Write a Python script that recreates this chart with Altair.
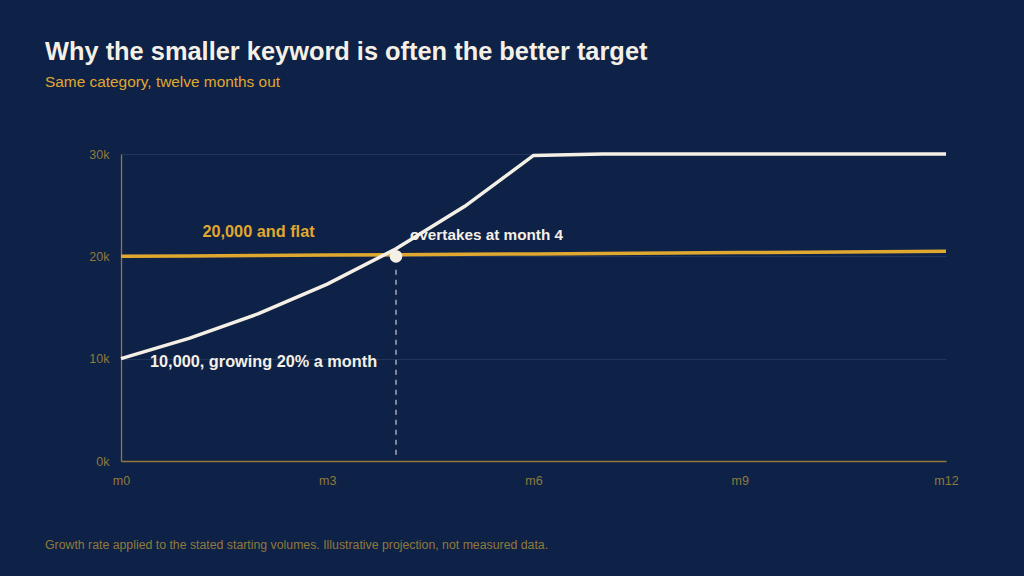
import altair as alt
import pandas as pd

months = list(range(13))
small_kw = [10000, 12000, 14400, 17280, 20736, 24883, 29860, 30000, 30000, 30000, 30000, 30000, 30000]
big_kw = [20000, 20040, 20080, 20120, 20160, 20200, 20240, 20280, 20320, 20370, 20410, 20450, 20490]
x_ticks = [0, 3, 6, 9, 12]
y_ticks = [0, 10000, 20000, 30000]
cross_month = 4
cross_value = 20000

BG = "#0e2146"
GOLD = "#e0a82e"
CREAM = "#f5f0e6"
MUTED = "#8f7a3c"
DOMAIN = "#94793a"
FONT = "Liberation Sans"

df = pd.DataFrame({"month": months, "small": small_kw, "big": big_kw})
cross = pd.DataFrame({"month": [cross_month], "value": [cross_value], "top": [18700], "zero": [150]})

x_enc = alt.X("month:Q", scale=alt.Scale(domain=[0, 12], nice=False),
              axis=alt.Axis(values=x_ticks, labelExpr="'m' + datum.value", title=None,
                            grid=False, ticks=False, domain=True, domainColor=DOMAIN, labelColor=MUTED,
                            labelFlush=False, labelFont=FONT, labelFontSize=12.5, labelPadding=13))
y_scale = alt.Scale(domain=[0, 30000], nice=False)
y_axis = alt.Axis(values=y_ticks, labelExpr="(datum.value/1000) + 'k'", title=None,
                  grid=True, gridColor="#22355c", gridWidth=1, ticks=False, domain=True,
                  domainColor=DOMAIN, labelColor=MUTED, labelFont=FONT, labelFontSize=12.5,
                  labelFlush=False, labelPadding=12)

base = alt.Chart(df)

grid = base.mark_line(opacity=0).encode(x=x_enc, y=alt.Y("small:Q", scale=y_scale, axis=y_axis))

gold_line = base.mark_line(color=GOLD, strokeWidth=3.5).encode(
    x="month:Q", y=alt.Y("big:Q", scale=y_scale))
white_line = base.mark_line(color=CREAM, strokeWidth=3.5).encode(
    x="month:Q", y=alt.Y("small:Q", scale=y_scale))

rule = alt.Chart(cross).mark_rule(color="#a3abbd", strokeDash=[5, 5], strokeWidth=1.5).encode(
    x="month:Q", y=alt.Y("top:Q", scale=y_scale), y2="zero:Q")
dot = alt.Chart(cross).mark_point(filled=True, color=CREAM, size=160, opacity=1).encode(
    x="month:Q", y=alt.Y("value:Q", scale=y_scale))

lbl_df = pd.DataFrame({
    "month": [2, 0, cross_month],
    "value": [20000, 10000, cross_value],
    "text": ["20,000 and flat", "10,000, growing 20% a month", "overtakes at month 4"],
})
gold_lbl = alt.Chart(lbl_df.iloc[[0]]).mark_text(
    color=GOLD, font=FONT, fontSize=16.3, fontWeight="bold", align="center", baseline="middle", dy=-24
).encode(x="month:Q", y=alt.Y("value:Q", scale=y_scale), text="text:N")
white_lbl = alt.Chart(lbl_df.iloc[[1]]).mark_text(
    color=CREAM, font=FONT, fontSize=16.3, fontWeight="bold", align="left", baseline="middle", dx=29, dy=3
).encode(x="month:Q", y=alt.Y("value:Q", scale=y_scale), text="text:N")
cross_lbl = alt.Chart(lbl_df.iloc[[2]]).mark_text(
    color=CREAM, font=FONT, fontSize=15.3, fontWeight="bold", align="left", baseline="middle", dx=14, dy=-21
).encode(x="month:Q", y=alt.Y("value:Q", scale=y_scale), text="text:N")

footer = alt.Chart(pd.DataFrame({"t": ["Growth rate applied to the stated starting volumes. Illustrative projection, not measured data."]})).mark_text(
    color=MUTED, font=FONT, fontSize=12.3, align="left", baseline="middle"
).encode(x=alt.value(-76), y=alt.value(391), text="t:N")

chart = alt.layer(grid, gold_line, white_line, rule, dot, gold_lbl, white_lbl, cross_lbl, footer).properties(
    width=825, height=307,
    background=BG,
    padding={"left": 113, "top": 146, "right": 70, "bottom": 107},
    autosize=alt.AutoSizeParams(type="none"),
    title=alt.TitleParams(
        "Why the smaller keyword is often the better target",
        subtitle="Same category, twelve months out",
        anchor="start", frame="group", dx=-76, offset=57,
        font=FONT, fontSize=25.4, fontWeight="bold", color=CREAM,
        subtitleFont=FONT, subtitleFontSize=15.4, subtitleColor=GOLD, subtitlePadding=9,
    ),
).configure_view(strokeWidth=0, strokeOpacity=0).configure_axis(
    domainColor=DOMAIN, domainWidth=1.3, domainOpacity=1)

saved = False
try:
    import jinja2
    from altair.utils.html import HTML_TEMPLATE

    class PageTemplate(jinja2.Template):
        def render(self, *args, **kwargs):
            html = HTML_TEMPLATE.render(*args, **kwargs)
            return html.replace("<style>", "<style>\n    body { background: " + BG + "; }", 1)

    chart.save("out.html", embed_options={"renderer": "svg", "actions": False},
               template=PageTemplate("x"))
    saved = True
except Exception:
    saved = False

if not saved:
    chart.save("out.html", embed_options={"renderer": "svg", "actions": False})
